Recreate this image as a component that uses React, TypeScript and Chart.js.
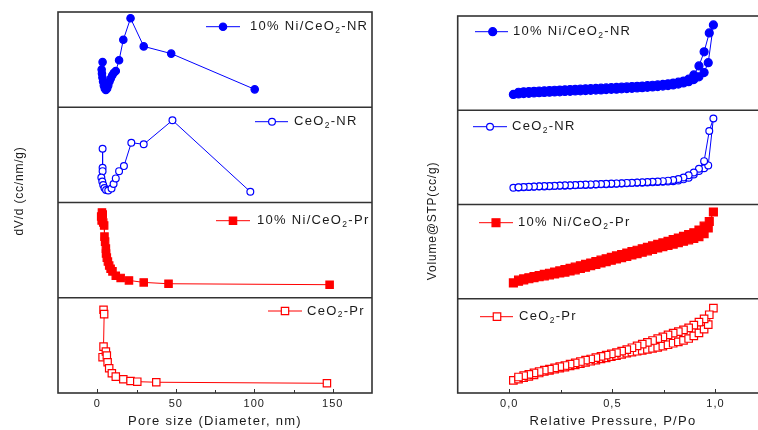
import React, { useEffect, useRef } from 'react';
import { Chart, registerables } from 'chart.js';

Chart.register(...registerables);

const FONT = "'Liberation Sans', Arial, sans-serif";
const BLUE = '#0000ff';
const RED = '#ff0000';
const INK = '#1a1a1a';

// ---------- Left panel: pore size distribution (x: diameter nm, y: % of sub-panel height) ----------
const poreNiNR_x = [3.4, 2.8, 3.0, 3.3, 3.7, 4.2, 4.8, 5.5, 6.3, 7.0, 7.8, 8.6, 9.5, 10.5, 11.8, 13.9, 16.6, 21.2, 29.6, 47.1, 100.3];
const poreNiNR_y = [47.4, 39.6, 35.4, 31.3, 27.1, 22.9, 19.8, 18.2, 19.8, 22.9, 27.1, 30.2, 33.3, 35.9, 38.0, 49.3, 70.8, 93.4, 63.9, 56.3, 18.8];

const poreNR_x = [3.4, 3.4, 3.4, 2.6, 3.2, 3.8, 4.6, 5.6, 7.0, 9.1, 10.4, 11.8, 13.9, 17.0, 21.7, 29.6, 47.9, 97.5];
const poreNR_y = [56.5, 36.5, 32.9, 26.3, 22.1, 18.4, 15.3, 13.0, 12.6, 14.7, 19.5, 25.3, 32.9, 38.2, 62.8, 61.1, 86.3, 11.3];

const poreNiPr_x = [3.0, 2.5, 3.5, 2.8, 3.8, 4.4, 4.6, 5.0, 5.5, 5.6, 6.1, 6.8, 7.6, 8.5, 9.7, 11.8, 14.9, 20.2, 29.6, 45.4, 148.0];
const poreNiPr_y = [89.5, 85.3, 87.4, 81.1, 78.9, 75.8, 64.2, 58.9, 51.6, 46.5, 42.1, 38.0, 33.8, 30.5, 27.7, 23.2, 20.8, 18.2, 16.1, 14.7, 13.7];

const porePr_x = [4.0, 4.4, 4.0, 3.4, 5.5, 6.1, 6.6, 7.6, 9.3, 11.8, 16.6, 21.2, 25.5, 37.6, 146.3];
const porePr_y = [87.4, 82.8, 48.7, 37.6, 43.5, 39.3, 32.3, 26.0, 20.7, 17.2, 14.4, 12.6, 11.9, 11.3, 10.2];

const leftTickValues = [0, 50, 100, 150];
const leftTickLabels = ['0', '50', '100', '150'];

// ---------- Right panel: isotherms (x: P/Po, y: % of sub-panel height) ----------
const adsP = [0.02, 0.045, 0.07, 0.095, 0.12, 0.145, 0.17, 0.195, 0.22, 0.245, 0.27, 0.295, 0.32, 0.345, 0.37, 0.395, 0.42, 0.445, 0.47, 0.495, 0.52, 0.545, 0.57, 0.595, 0.62, 0.645, 0.67, 0.695, 0.72, 0.745, 0.77, 0.795, 0.82, 0.845, 0.87, 0.895, 0.92, 0.945, 0.965, 0.99];
const desP = [0.97, 0.945, 0.92, 0.895, 0.87, 0.845, 0.82, 0.795, 0.77, 0.745, 0.72, 0.695, 0.67, 0.645, 0.62, 0.595, 0.57, 0.545, 0.52, 0.495, 0.47, 0.445, 0.42, 0.395, 0.37, 0.345, 0.32, 0.295, 0.27, 0.245, 0.22, 0.195, 0.17, 0.145, 0.12, 0.095, 0.07, 0.045];

const isoNiNR_ads = [16.8, 17.3, 17.7, 18.0, 18.3, 18.6, 18.9, 19.1, 19.4, 19.6, 19.9, 20.1, 20.4, 20.6, 20.9, 21.1, 21.4, 21.6, 21.9, 22.2, 22.4, 22.7, 23.0, 23.3, 23.6, 23.9, 24.3, 24.7, 25.1, 25.6, 26.2, 26.9, 27.8, 28.9, 30.3, 32.5, 35.5, 40.0, 50.5, 90.5];
const isoNiNR_des = [82.0, 62.0, 47.0, 37.5, 33.0, 31.0, 29.8, 28.8, 28.0, 27.4, 26.9, 26.5, 26.1, 25.7, 25.4, 25.1, 24.8, 24.5, 24.2, 24.0, 23.7, 23.4, 23.2, 22.9, 22.7, 22.4, 22.2, 21.9, 21.7, 21.4, 21.2, 20.9, 20.7, 20.4, 20.1, 19.8, 19.5, 19.1];

const isoNR_ads = [17.8, 18.0, 18.3, 18.5, 18.8, 19.0, 19.2, 19.4, 19.6, 19.8, 20.0, 20.2, 20.4, 20.6, 20.8, 21.0, 21.2, 21.4, 21.6, 21.8, 22.0, 22.2, 22.5, 22.8, 23.0, 23.2, 23.4, 23.6, 23.9, 24.1, 24.3, 24.6, 25.4, 26.7, 28.5, 31.8, 35.5, 38.5, 41.5, 91.3];
const isoNR_des = [78.0, 46.0, 38.0, 34.0, 31.0, 28.6, 27.0, 26.0, 25.3, 24.8, 24.4, 24.1, 23.9, 23.6, 23.4, 23.1, 22.9, 22.6, 22.4, 22.2, 21.9, 21.7, 21.5, 21.3, 21.1, 20.9, 20.7, 20.5, 20.3, 20.1, 19.9, 19.7, 19.5, 19.3, 19.1, 18.9, 18.6, 18.3];

const isoNiPr_ads = [16.8, 18.6, 20.0, 21.2, 22.3, 23.3, 24.3, 25.3, 26.3, 27.3, 28.3, 29.4, 30.7, 32.1, 33.5, 35.0, 36.5, 38.0, 39.4, 40.8, 42.2, 43.6, 45.0, 46.4, 47.8, 49.3, 50.8, 52.3, 53.8, 55.2, 56.6, 58.0, 59.5, 61.0, 62.5, 64.0, 65.8, 69.0, 75.0, 92.0];
const isoNiPr_des = [82.0, 77.0, 73.0, 70.0, 68.0, 66.3, 64.5, 62.7, 61.0, 59.3, 57.7, 56.1, 54.5, 53.0, 51.5, 50.0, 48.5, 47.0, 45.5, 44.0, 42.5, 41.0, 39.5, 38.0, 36.5, 35.0, 33.5, 32.2, 30.9, 29.6, 28.3, 27.1, 25.9, 24.7, 23.5, 22.3, 21.1, 19.8];

const isoPr_ads = [13.3, 14.8, 16.2, 17.6, 19.3, 21.2, 22.8, 24.0, 25.2, 26.3, 27.5, 28.7, 29.9, 31.1, 32.4, 33.7, 34.9, 36.1, 37.3, 38.5, 39.7, 41.0, 42.2, 43.3, 44.3, 45.3, 46.3, 47.3, 48.4, 49.7, 51.2, 52.8, 54.2, 55.8, 57.8, 60.7, 63.8, 67.8, 72.5, 90.1];
const isoPr_des = [83.0, 78.7, 75.2, 72.0, 69.2, 67.0, 65.2, 63.5, 61.6, 59.6, 57.6, 55.7, 53.8, 51.8, 49.9, 48.0, 46.1, 44.4, 42.9, 41.5, 40.2, 38.9, 37.5, 36.1, 34.8, 33.4, 32.0, 30.6, 29.2, 27.9, 26.6, 25.4, 24.2, 22.8, 21.3, 19.8, 18.4, 17.0];

const rightTickValues = [0, 0.5, 1.0];
const rightTickLabels = ['0,0', '0,5', '1,0'];

// ---------- helpers ----------
const pts = (xs: number[], ys: number[]) => xs.map((x, i) => ({ x, y: ys[i] }));
const loop = (ads: number[], des: number[]) => pts(adsP, ads).concat(pts(desP, des));

type Series = {
  label: string; data: { x: number; y: number }[]; color: string;
  style: 'circle' | 'rect'; filled: boolean; r: number;
  leg: { x1: number; x2: number; mx: number; y: number; tx: number };
};

type PanelCfg = {
  width: number; padL: number; padR: number; padT: number;
  xMin: number; xMax: number; xStep: number;
  tickValues: number[]; tickLabels: string[];
  series: Series[];
  yTitle: string; yTitleX: number; yTitleY: number;
  xTitle: string; xTitleX: number; xTitleY: number;
};

function drawMarker(ctx: CanvasRenderingContext2D, s: Series, x: number, y: number) {
  ctx.save();
  ctx.beginPath();
  if (s.style === 'circle') {
    ctx.arc(x, y, s.r, 0, Math.PI * 2);
  } else {
    const h = s.r * Math.SQRT1_2;
    ctx.rect(x - h, y - h, 2 * h, 2 * h);
  }
  ctx.fillStyle = s.filled ? s.color : '#ffffff';
  ctx.fill();
  ctx.lineWidth = 1.2;
  ctx.strokeStyle = s.color;
  ctx.stroke();
  ctx.restore();
}

function drawRich(ctx: CanvasRenderingContext2D, text: string, x: number, y: number) {
  const parts = text.split('_');
  let cx = x;
  parts.forEach((p, i) => {
    let main = p;
    if (i > 0) {
      const sub = p.charAt(0);
      main = p.slice(1);
      ctx.font = `8.5px ${FONT}`;
      ctx.fillText(sub, cx, y + 4);
      cx += ctx.measureText(sub).width;
    }
    ctx.font = `13px ${FONT}`;
    ctx.fillText(main, cx, y);
    cx += ctx.measureText(main).width;
  });
}

function makeChart(canvas: HTMLCanvasElement, cfg: PanelCfg) {
  const scales: any = {
    x: {
      type: 'linear', position: 'bottom', min: cfg.xMin, max: cfg.xMax,
      grid: { display: false, drawTicks: false, tickLength: 0 },
      border: { display: false },
      ticks: {
        stepSize: cfg.xStep, autoSkip: false, maxRotation: 0, padding: 4,
        color: INK, font: { family: FONT, size: 11 },
        callback: (v: number) => {
          const i = cfg.tickValues.findIndex((t) => Math.abs(t - v) < 1e-9);
          return i >= 0 ? cfg.tickLabels[i] : '';
        },
      },
      afterFit: (s: any) => { s.height = 37; },
    },
  };
  // stacked scales are laid out bottom-up in definition order, so define the lowest panel first
  for (let i = cfg.series.length - 1; i >= 0; i--) {
    scales['y' + (i + 1)] = {
      type: 'linear', position: 'left', stack: 'panels', stackWeight: 1,
      min: 0, max: 100, offset: false,
      grid: { display: false, drawTicks: false },
      border: { display: false },
      ticks: { display: false },
      afterFit: (s: any) => { s.width = 0; },
    };
  }

  const datasets = cfg.series.map((s, i) => ({
    label: s.label, data: s.data, xAxisID: 'x', yAxisID: 'y' + (i + 1),
    showLine: true, tension: 0, borderColor: s.color, borderWidth: 1,
    backgroundColor: s.filled ? s.color : '#ffffff',
    pointStyle: s.style, pointRadius: s.r, pointBorderWidth: 1.2,
    pointBorderColor: s.color, pointBackgroundColor: s.filled ? s.color : '#ffffff',
  }));

  const deco = {
    id: 'deco',
    beforeDraw(chart: any) {
      (chart.ctx as any).letterSpacing = '1px';
    },
    afterDraw(chart: any) {
      const ctx: CanvasRenderingContext2D = chart.ctx;
      const a = chart.chartArea;
      const xs = chart.scales.x;
      ctx.save();
      // inward x ticks
      ctx.strokeStyle = '#333';
      ctx.lineWidth = 1;
      xs.ticks.forEach((t: any) => {
        if (t.value <= cfg.xMin || t.value >= cfg.xMax) return;
        const px = Math.round(xs.getPixelForValue(t.value)) + 0.5;
        const major = cfg.tickValues.some((v) => Math.abs(v - t.value) < 1e-9);
        ctx.beginPath();
        ctx.moveTo(px, a.bottom);
        ctx.lineTo(px, a.bottom - (major ? 4 : 3));
        ctx.stroke();
      });
      // frame and dividers
      ctx.strokeStyle = '#333';
      ctx.lineWidth = 1.6;
      ctx.strokeRect(a.left, a.top, a.right - a.left, a.bottom - a.top);
      cfg.series.forEach((_, i) => {
        if (i === 0) return;
        const sc = chart.scales['y' + (i + 1)];
        const yy = Math.min(sc.top, sc.bottom);
        ctx.beginPath();
        ctx.moveTo(a.left, yy);
        ctx.lineTo(a.right, yy);
        ctx.stroke();
      });
      // legends
      (ctx as any).letterSpacing = '1.3px';
      ctx.textBaseline = 'middle';
      ctx.textAlign = 'left';
      cfg.series.forEach((s) => {
        const L = s.leg;
        ctx.strokeStyle = s.color;
        ctx.lineWidth = 1;
        ctx.beginPath();
        ctx.moveTo(L.x1, L.y);
        ctx.lineTo(L.x2, L.y);
        ctx.stroke();
        drawMarker(ctx, s, L.mx, L.y);
        ctx.fillStyle = INK;
        drawRich(ctx, s.label, L.tx, L.y);
      });
      // axis titles
      ctx.fillStyle = INK;
      ctx.textAlign = 'center';
      ctx.textBaseline = 'middle';
      (ctx as any).letterSpacing = '1.25px';
      ctx.font = `13px ${FONT}`;
      ctx.fillText(cfg.xTitle, cfg.xTitleX, cfg.xTitleY);
      ctx.save();
      ctx.translate(cfg.yTitleX, cfg.yTitleY);
      ctx.rotate(-Math.PI / 2);
      (ctx as any).letterSpacing = '0.8px';
      ctx.font = `12px ${FONT}`;
      ctx.fillText(cfg.yTitle, 0, 0);
      ctx.restore();
      ctx.restore();
    },
  };

  return new Chart(canvas, {
    type: 'scatter',
    data: { datasets },
    options: {
      responsive: false, animation: false, devicePixelRatio: 1, events: [],
      layout: { padding: { left: cfg.padL, right: cfg.padR, top: cfg.padT, bottom: 0 } },
      plugins: { legend: { display: false }, tooltip: { enabled: false } },
      scales,
    },
    plugins: [deco],
  } as any);
}

const leftCfg: PanelCfg = {
  width: 380, padL: 58, padR: 8, padT: 12,
  xMin: -25, xMax: 175, xStep: 25,
  tickValues: leftTickValues, tickLabels: leftTickLabels,
  yTitle: 'dV/d (cc/nm/g)', yTitleX: 20, yTitleY: 191,
  xTitle: 'Pore size (Diameter, nm)', xTitleX: 215, xTitleY: 421.5,
  series: [
    { label: '10% Ni/CeO_2-NR', data: pts(poreNiNR_x, poreNiNR_y), color: BLUE, style: 'circle', filled: true, r: 3.7,
      leg: { x1: 206, x2: 240, mx: 223, y: 26.7, tx: 250 } },
    { label: 'CeO_2-NR', data: pts(poreNR_x, poreNR_y), color: BLUE, style: 'circle', filled: false, r: 3.4,
      leg: { x1: 255, x2: 288, mx: 272, y: 121.7, tx: 294 } },
    { label: '10% Ni/CeO_2-Pr', data: pts(poreNiPr_x, poreNiPr_y), color: RED, style: 'rect', filled: true, r: 5.2,
      leg: { x1: 216, x2: 250, mx: 233, y: 220.7, tx: 257 } },
    { label: 'CeO_2-Pr', data: pts(porePr_x, porePr_y), color: RED, style: 'rect', filled: false, r: 5.2,
      leg: { x1: 268, x2: 302, mx: 285, y: 311, tx: 307 } },
  ],
};

const rightCfg: PanelCfg = {
  width: 400, padL: 77.7, padR: 13, padT: 16,
  xMin: -0.25, xMax: 1.25, xStep: 0.25,
  tickValues: rightTickValues, tickLabels: rightTickLabels,
  yTitle: 'Volume@STP(cc/g)', yTitleX: 53, yTitleY: 221,
  xTitle: 'Relative Pressure, P/Po', xTitleX: 233, xTitleY: 421,
  series: [
    { label: '10% Ni/CeO_2-NR', data: loop(isoNiNR_ads, isoNiNR_des), color: BLUE, style: 'circle', filled: true, r: 4,
      leg: { x1: 95, x2: 128, mx: 112.7, y: 31.7, tx: 133 } },
    { label: 'CeO_2-NR', data: loop(isoNR_ads, isoNR_des), color: BLUE, style: 'circle', filled: false, r: 3.4,
      leg: { x1: 93, x2: 127, mx: 110, y: 126.7, tx: 132 } },
    { label: '10% Ni/CeO_2-Pr', data: loop(isoNiPr_ads, isoNiPr_des), color: RED, style: 'rect', filled: true, r: 5.6,
      leg: { x1: 99, x2: 133, mx: 116, y: 222.7, tx: 138 } },
    { label: 'CeO_2-Pr', data: loop(isoPr_ads, isoPr_des), color: RED, style: 'rect', filled: false, r: 5.3,
      leg: { x1: 100, x2: 133, mx: 117, y: 316.7, tx: 139 } },
  ],
};

export default function App() {
  const leftRef = useRef<HTMLCanvasElement>(null);
  const rightRef = useRef<HTMLCanvasElement>(null);
  useEffect(() => {
    const c1 = makeChart(leftRef.current as HTMLCanvasElement, leftCfg);
    const c2 = makeChart(rightRef.current as HTMLCanvasElement, rightCfg);
    return () => { c1.destroy(); c2.destroy(); };
  }, []);
  return (
    <div style={{ position: 'fixed', left: 0, top: 0, width: 758, height: 430, overflow: 'hidden', background: '#ffffff' }}>
      <canvas ref={leftRef} width={380} height={430} style={{ position: 'absolute', left: 0, top: 0 }} />
      <canvas ref={rightRef} width={400} height={430} style={{ position: 'absolute', left: 380, top: 0 }} />
    </div>
  );
}
